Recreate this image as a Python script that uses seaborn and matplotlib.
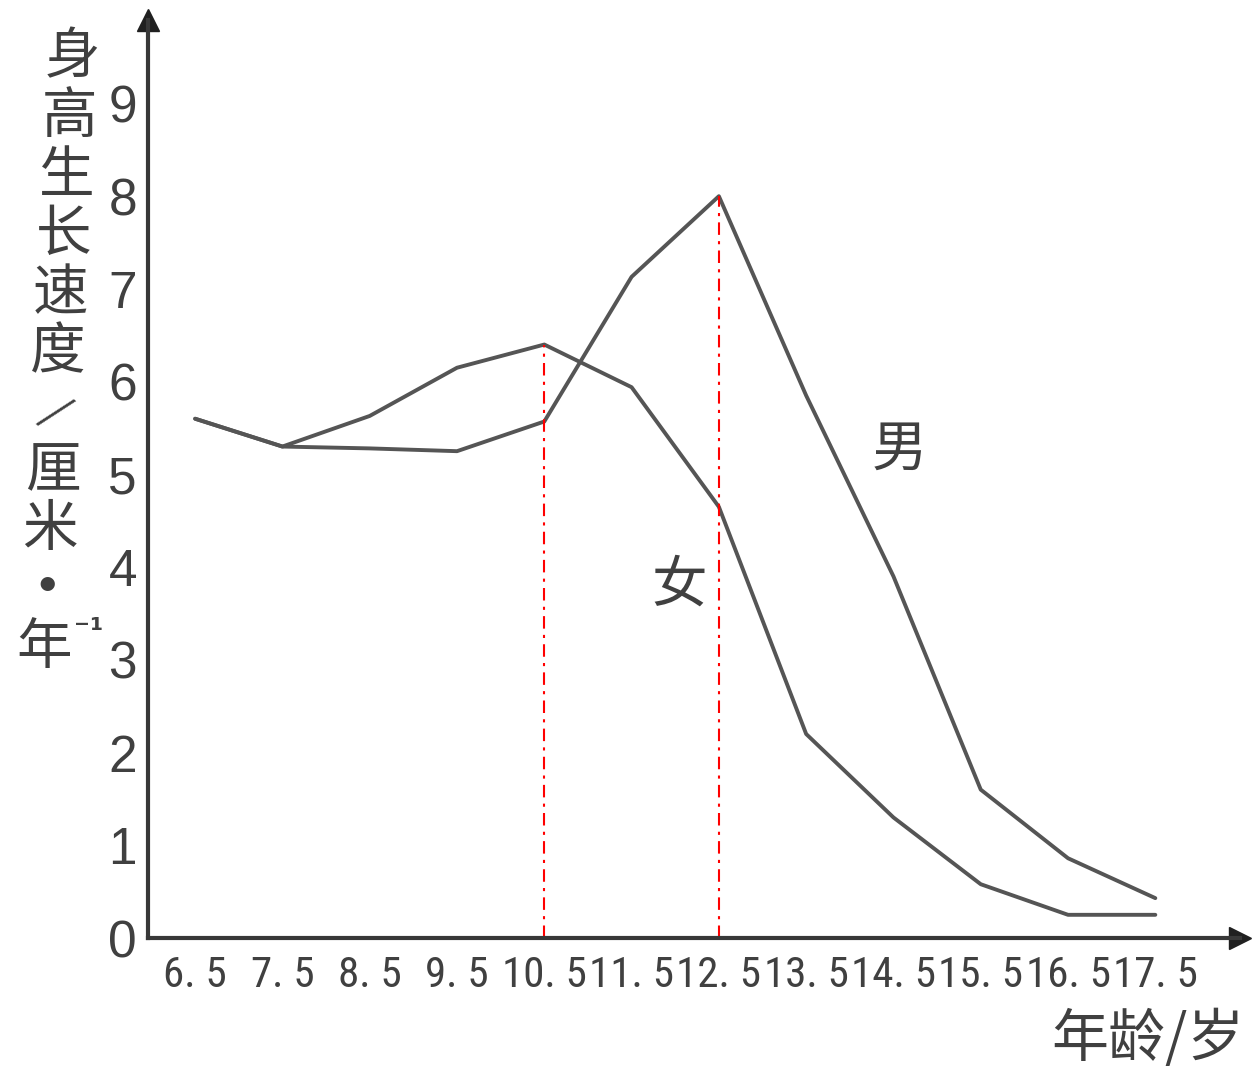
import matplotlib
matplotlib.use("Agg")
import matplotlib.pyplot as plt
import matplotlib.font_manager as fm
import seaborn as sns
import pandas as pd

# 数据：年龄（岁）与身高生长速度（厘米/年）
ages = [6.5, 7.5, 8.5, 9.5, 10.5, 11.5, 12.5, 13.5, 14.5, 15.5, 16.5, 17.5]
female = [5.6, 5.3, 5.63, 6.15, 6.4, 5.94, 4.65, 2.2, 1.3, 0.58, 0.25, 0.25]
male = [5.6, 5.3, 5.28, 5.25, 5.57, 7.13, 8.0, 5.85, 3.9, 1.6, 0.86, 0.43]
x_ticks = ages
x_labels = ["6. 5", "7. 5", "8. 5", "9. 5", "10. 5", "11. 5", "12. 5",
            "13. 5", "14. 5", "15. 5", "16. 5", "17. 5"]
y_ticks = list(range(0, 10))
peak_ages = [10.5, 12.5]
peak_vals = [max(female), max(male)]

sns.set_style("white")
available = {f.name for f in fm.fontManager.ttflist}
cjk = ["Noto Sans CJK SC", "DejaVu Sans"]
plt.rcParams["font.family"] = cjk
plt.rcParams["axes.unicode_minus"] = False
narrow = None
for f in ["Liberation Sans Narrow", "Roboto Condensed", "Open Sans Condensed", "Liberation Sans"]:
    if f in available:
        narrow = f
        break
if narrow is None:
    narrow = "DejaVu Sans"
num_font = "Liberation Sans" if "Liberation Sans" in available else "DejaVu Sans"

GRAY = "#555555"
TXT = "#404040"

df = pd.DataFrame({"age": ages, "女": female, "男": male})

fig = plt.figure(figsize=(12.53, 10.74), dpi=100)
ax = fig.add_axes([148 / 1253, (1074 - 938) / 1074, (1240 - 148) / 1253, (938 - 20) / 1074])

sns.lineplot(data=df, x="age", y="女", ax=ax, color=GRAY, linewidth=2.8)
sns.lineplot(data=df, x="age", y="男", ax=ax, color=GRAY, linewidth=2.8)

# 红色点划线
ax.vlines(peak_ages, 0, peak_vals, colors="red", linewidth=1.5,
          linestyles=[(0, (6, 3, 1.5, 3))])

ax.set_xlim(5.96, 18.47)
ax.set_ylim(0, 9.9)
for s in ["top", "right"]:
    ax.spines[s].set_visible(False)
for s in ["left", "bottom"]:
    ax.spines[s].set_linewidth(3)
    ax.spines[s].set_color("#383838")

ax.plot(1, 0, ">", color="#202020", markersize=16, transform=ax.transAxes, clip_on=False)
ax.plot(0, 1, "^", color="#202020", markersize=16, transform=ax.transAxes, clip_on=False)

ax.set_xticks(x_ticks)
ax.set_xticklabels(x_labels, fontsize=31, family=narrow, color=TXT)
ax.set_yticks(y_ticks)
ax.set_yticklabels([str(v) for v in y_ticks], fontsize=37, family=num_font, color=TXT)
ax.tick_params(axis="x", direction="in", length=12, width=2.5, color="#383838", pad=12)
ax.tick_params(axis="y", direction="in", length=20, width=2.5, color="#383838", pad=8)
ax.set_xlabel("")
ax.set_ylabel("")

# 曲线标注
ax.text(14.57, 5.26, "男", fontsize=40, color=TXT, ha="center", va="center")
ax.text(12.05, 3.8, "女", fontsize=40, color=TXT, ha="center", va="center")

# 纵轴标题（竖排，略向左倾斜）
ylab = "身高生长速度/厘米·年"
n = len(ylab)
for i, ch in enumerate(ylab):
    ypix = 58 + i * 59
    xpix = 72 - 28 * i / (n - 1)
    rot = -40 if ch == "/" else 0
    size = 32 if ch == "/" else 40
    fig.text(xpix / 1253, 1 - ypix / 1074, ch, fontsize=size, color=TXT,
             ha="center", va="center", rotation=rot,
             fontweight="bold" if ch == "·" else "normal")
fig.text(89 / 1253, 1 - 632 / 1074, "⁻¹", fontsize=22, color=TXT,
         ha="center", va="center", family=["DejaVu Sans"], fontweight="bold")

# 横轴标题
fig.text(1245 / 1253, 1 - 1040 / 1074, "年龄/岁", fontsize=41, color=TXT,
         ha="right", va="center")

fig.savefig("out.png", dpi=100)
